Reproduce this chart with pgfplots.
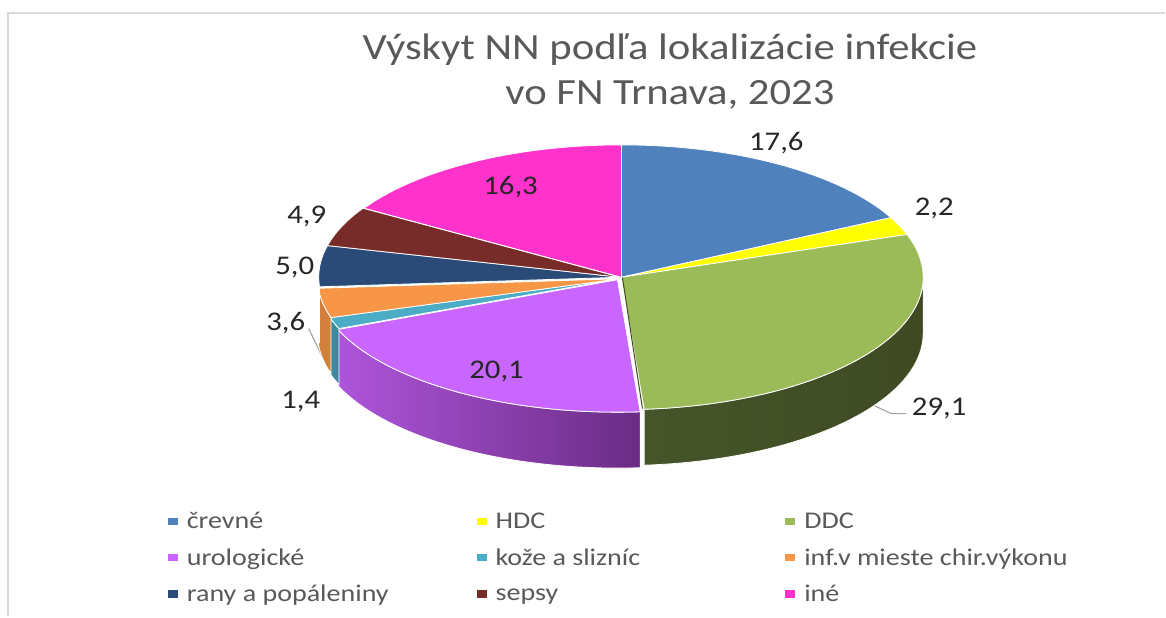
\documentclass[border=0pt]{standalone}
\usepackage{fontspec}
\setmainfont{Carlito}
\usepackage{pgfplots}
\pgfplotsset{compat=1.18}
\definecolor{cA}{HTML}{4F81BD}
\definecolor{cB}{HTML}{FFFF00}
\definecolor{cC}{HTML}{9BBB59}
\definecolor{cD}{HTML}{C866FF}
\definecolor{cE}{HTML}{4BACC6}
\definecolor{cF}{HTML}{F79646}
\definecolor{cG}{HTML}{2A4B78}
\definecolor{cH}{HTML}{772C2A}
\definecolor{cI}{HTML}{FF33CC}
\definecolor{gA}{HTML}{455529}
\definecolor{gB}{HTML}{3F4A23}
\definecolor{gC}{HTML}{3F4A23}
\definecolor{pA}{HTML}{AE55DA}
\definecolor{pB}{HTML}{6A2C85}
\definecolor{tx}{HTML}{595959}
\definecolor{lb}{HTML}{262626}
\definecolor{fr}{HTML}{D9D9D9}
\definecolor{ld}{HTML}{A6A6A6}
\def\baseX{622}\def\baseY{339.5}\def\rx{302}\def\ry{132.5}\def\dep{56}
% the nine labels add up to 100.2, so one unit is 360/100.2 degrees
\def\deg{3.59281}
\xdef\cum{0}
\def\offx{0}\def\offy{0}
\newcommand\addarc[3]{%
  \foreach \k in {0,...,48}{%
    \pgfmathsetmacro\T{#2+(#3-#2)*\k/48}%
    \pgfmathsetmacro\X{\cx+\rx*sin(\T)}%
    \pgfmathsetmacro\Y{#1+\ry*cos(\T)}%
    \xdef\acc{\acc (\X,\Y)}}}
\newcommand\Slice[4]{%
  \pgfmathsetmacro\cx{\baseX+\offx}%
  \pgfmathsetmacro\cy{\baseY+\offy}%
  \pgfmathsetmacro\aa{\cum*\deg}%
  \pgfmathsetmacro\bb{(\cum+#1)*\deg}%
  \pgfmathsetmacro\wa{max(\aa,90)}%
  \pgfmathsetmacro\wb{min(\bb,270)}%
  \pgfmathtruncatemacro\hasw{\wb>\wa?1:0}%
  \ifnum\hasw=1
    \xdef\acc{}%
    \pgfmathsetmacro\ylow{\cy-\dep}%
    \addarc{\cy}{\wa}{\wb}%
    \addarc{\ylow}{\wb}{\wa}%
    \edef\tmp{\noexpand\addplot[forget plot,draw=white,line width=0.8pt,#3] coordinates {\acc} --cycle;}\tmp
  \fi
  \xdef\acc{(\cx,\cy)}%
  \addarc{\cy}{\aa}{\bb}%
  \edef\tmp{\noexpand\addplot[fill=#2,draw=white,line width=0.8pt] coordinates {\acc} --cycle;}\tmp
  \addlegendentry{#4}%
  \pgfmathsetmacro\nc{\cum+#1}%
  \xdef\cum{\nc}%
}
\newcommand\lab[3]{\node[text=lb,inner sep=0pt] at (axis cs:#1,{617-#2}) {\fontsize{27}{30}\selectfont\scalebox{1.14}[1]{#3}};}
\newcommand\leg[1]{\makebox[295pt][l]{\rule[-6pt]{0pt}{22pt}\hspace{7pt}\scalebox{1.17}[1]{#1}}}
\begin{document}
\begin{tikzpicture}
\begin{axis}[
  scale only axis, width=1166pt, height=617pt,
  xmin=0, xmax=1166, ymin=0, ymax=617,
  hide axis, clip=false,
  legend columns=3,
  legend style={at={(axis cs:168,106)}, anchor=north west, draw=none, fill=none, inner sep=0pt, outer sep=0pt,
    font=\fontsize{24}{26}\selectfont, text=tx,
    /tikz/every even column/.append style={column sep=0pt},
    row sep=14pt},
  legend cell align=left,
  legend image code/.code={\fill[#1,draw=none] (0pt,-4pt) rectangle (10pt,4pt);},
]
\path (axis cs:0,0) rectangle (axis cs:1166,617);
\addplot[forget plot,color=fr,line width=2pt] coordinates {(8,0) (8,604) (1166,604)};
\addplot[forget plot,color=ld,line width=1.2pt] coordinates {(875,211) (892,203) (907,203)};
\addplot[forget plot,color=ld,line width=1.2pt] coordinates {(309,288) (323,259)};
\Slice{17.6}{cA}{}{\leg{črevné}}
\Slice{2.2}{cB}{}{\leg{HDC}}
\Slice{29.1}{cC}{left color=gA,middle color=gB,right color=gC}{\leg{DDC}}
\def\offx{-4}\def\offy{-2.5}
\Slice{20.1}{cD}{left color=pA,right color=pB}{\leg{urologické}}
\def\offx{-3}\def\offy{-1.5}
\Slice{1.4}{cE}{fill=cE!80!black}{\leg{kože a slizníc}}
\def\offx{-2}\def\offy{-1.5}
\Slice{3.6}{cF}{fill=cF!85!black}{\leg{inf.v mieste chir.výkonu}}
\def\offx{-1}\def\offy{0}
\Slice{5.0}{cG}{}{\leg{rany a popáleniny}}
\def\offx{-1}\def\offy{0}
\Slice{4.9}{cH}{}{\leg{sepsy}}
\def\offx{0}\def\offy{0}
\Slice{16.3}{cI}{}{\leg{iné}}
\addplot[forget plot,color=gB,line width=1pt] coordinates {(623,339) (643,208)};
\node[text=tx,inner sep=0pt] at (axis cs:670.5,{617-50}) {\fontsize{37}{40}\selectfont\scalebox{1.155}[1]{Výskyt NN podľa lokalizácie infekcie}};
\node[text=tx,inner sep=0pt] at (axis cs:670.5,{617-95}) {\fontsize{37}{40}\selectfont\scalebox{1.155}[1]{vo FN Trnava, 2023}};
\lab{777}{143}{17,6}
\lab{935}{209}{2,2}
\lab{940}{409}{29,1}
\lab{497}{372}{20,1}
\lab{301}{402}{1,4}
\lab{286}{323}{3,6}
\lab{295}{268}{5,0}
\lab{307}{217}{4,9}
\lab{511}{187}{16,3}
\end{axis}
\end{tikzpicture}
\end{document}
